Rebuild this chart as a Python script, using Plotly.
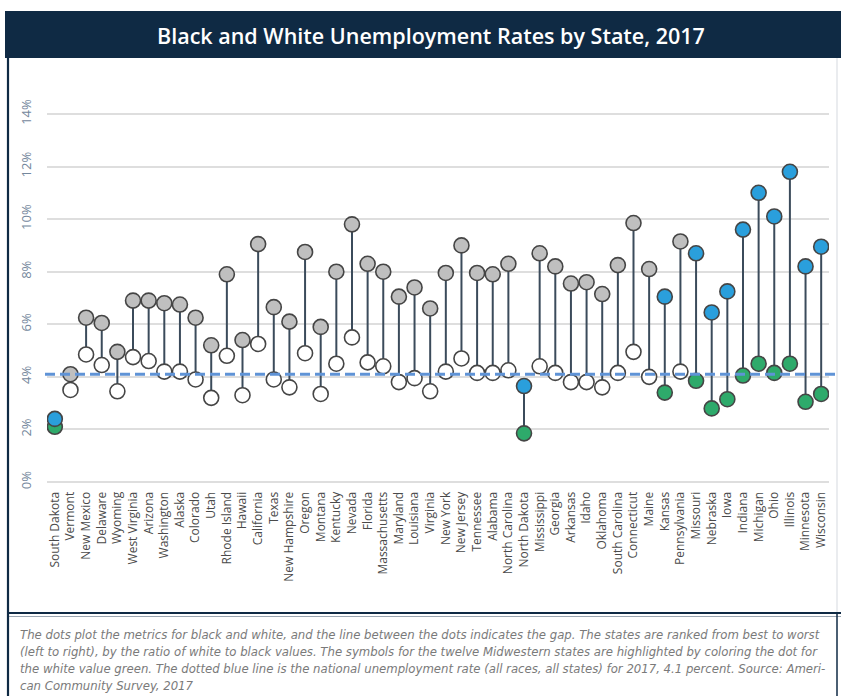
import plotly.graph_objects as go

# ---------------- data ----------------
states = ["South Dakota", "Vermont", "New Mexico", "Delaware", "Wyoming", "West Virginia",
          "Arizona", "Washington", "Alaska", "Colorado", "Utah", "Rhode Island", "Hawaii",
          "California", "Texas", "New Hampshire", "Oregon", "Montana", "Kentucky", "Nevada",
          "Florida", "Massachusetts", "Maryland", "Louisiana", "Virginia", "New York",
          "New Jersey", "Tennessee", "Alabama", "North Carolina", "North Dakota", "Mississippi",
          "Georgia", "Arkansas", "Idaho", "Oklahoma", "South Carolina", "Connecticut", "Maine",
          "Kansas", "Pennsylvania", "Missouri", "Nebraska", "Iowa", "Indiana", "Michigan",
          "Ohio", "Illinois", "Minnesota", "Wisconsin"]

black_rate = [2.4, 4.1, 6.25, 6.05, 4.95, 6.9, 6.9, 6.8, 6.75, 6.25, 5.2, 7.9, 5.4, 9.05,
              6.65, 6.1, 8.75, 5.9, 8.0, 9.8, 8.3, 8.0, 7.05, 7.4, 6.6, 7.95, 9.0, 7.95, 7.9,
              8.3, 3.65, 8.7, 8.2, 7.55, 7.6, 7.15, 8.25, 9.85, 8.1, 7.05, 9.15, 8.7, 6.45,
              7.25, 9.6, 11.0, 10.1, 11.8, 8.2, 8.95]

white_rate = [2.1, 3.5, 4.85, 4.45, 3.45, 4.75, 4.6, 4.2, 4.2, 3.9, 3.2, 4.8, 3.3, 5.25,
              3.9, 3.6, 4.9, 3.35, 4.5, 5.5, 4.55, 4.4, 3.8, 3.95, 3.45, 4.2, 4.7, 4.15, 4.15,
              4.25, 1.85, 4.4, 4.15, 3.8, 3.8, 3.6, 4.15, 4.95, 4.0, 3.4, 4.2, 3.85, 2.8,
              3.15, 4.05, 4.5, 4.15, 4.5, 3.05, 3.35]

midwest = {"South Dakota", "North Dakota", "Kansas", "Missouri", "Nebraska", "Iowa",
           "Indiana", "Michigan", "Ohio", "Illinois", "Minnesota", "Wisconsin"}

national_rate = 4.1
y_ticks = [0, 2, 4, 6, 8, 10, 12, 14]

title_text = "Black and White Unemployment Rates by State, 2017"
caption_lines = [
    "The dots plot the metrics for black and white, and the line between the dots indicates the gap. The states are ranked from best to worst",
    "(left to right), by the ratio of white to black values. The symbols for the twelve Midwestern states are highlighted by coloring the dot for",
    "the white value green. The dotted blue line is the national unemployment rate (all races, all states) for 2017, 4.1 percent. Source: Ameri-",
    "can Community Survey, 2017",
]

# ---------------- layout geometry ----------------
W, H = 841, 696
L, R, T, B = 47, 12, 98, 212
PW = W - L - R
PH = H - T - B
PX_PER_PCT = 26.29
y_lo = -(H - B - 482) / PX_PER_PCT
y_hi = y_lo + PH / PX_PER_PCT


def px(x):
    return (x - L) / PW


def py(y):
    return (H - B - y) / PH


NAVY = "#0f2a44"
GRAY_FILL = "#bfbfbf"
BLUE = "#2a9fdc"
GREEN = "#2eaa6b"
STEM = "#3b4b5b"
OUTLINE = "#454545"

xs = list(range(len(states)))

stem_x, stem_y = [], []
for i, (b, w) in enumerate(zip(black_rate, white_rate)):
    stem_x += [i, i, None]
    stem_y += [b, w, None]

black_colors = [BLUE if s in midwest else GRAY_FILL for s in states]
white_colors = [GREEN if s in midwest else "#ffffff" for s in states]

fig = go.Figure()
fig.add_trace(go.Scatter(x=stem_x, y=stem_y, mode="lines",
                         line=dict(color=STEM, width=2), hoverinfo="skip",
                         showlegend=False))
fig.add_trace(go.Scatter(x=xs, y=white_rate, mode="markers",
                         marker=dict(size=15, color=white_colors,
                                     line=dict(color=OUTLINE, width=1.6)),
                         showlegend=False, name="White"))
fig.add_trace(go.Scatter(x=xs, y=black_rate, mode="markers",
                         marker=dict(size=15, color=black_colors,
                                     line=dict(color=OUTLINE, width=1.6)),
                         showlegend=False, name="Black"))

shapes = [
    # header band
    dict(type="rect", xref="paper", yref="paper", x0=px(5), x1=px(845),
         y0=py(58), y1=py(11), fillcolor=NAVY, line=dict(width=0), layer="below"),
    # panel left border
    dict(type="line", xref="paper", yref="paper", x0=px(8), x1=px(8),
         y0=py(58), y1=py(613), line=dict(color=NAVY, width=2.2)),
    # panel right border
    dict(type="line", xref="paper", yref="paper", x0=px(837), x1=px(837),
         y0=py(58), y1=py(613), line=dict(color="#e3e6ea", width=1.5)),
    # panel bottom border
    dict(type="line", xref="paper", yref="paper", x0=px(8), x1=px(845),
         y0=py(613), y1=py(613), line=dict(color=NAVY, width=2.2)),
    dict(type="line", xref="paper", yref="paper", x0=px(8), x1=px(845),
         y0=py(616.5), y1=py(616.5), line=dict(color="#9aa5b1", width=1)),
    # caption box borders
    dict(type="line", xref="paper", yref="paper", x0=px(8), x1=px(8),
         y0=py(613), y1=py(700), line=dict(color=NAVY, width=2.2)),
    dict(type="line", xref="paper", yref="paper", x0=px(837), x1=px(837),
         y0=py(613), y1=py(700), line=dict(color=NAVY, width=1.5)),
    # national rate
    dict(type="line", xref="paper", yref="y", x0=px(45), x1=px(836),
         y0=national_rate, y1=national_rate,
         line=dict(color="#5f93d6", width=3, dash="10px,5px"), layer="above"),
]

annotations = [
    dict(text=title_text, xref="paper", yref="paper", x=px(431), y=py(35),
         xanchor="center", yanchor="middle", showarrow=False,
         font=dict(family="Open Sans", size=21.5, color="#ffffff", weight=600)),
    dict(text="<i>" + "<br>".join(caption_lines) + "</i>", xref="paper", yref="paper",
         x=px(18), y=py(625), xanchor="left", yanchor="top", align="left",
         showarrow=False,
         font=dict(family="Liberation Sans Narrow, DejaVu Sans Condensed, Liberation Sans, sans-serif",
                   size=13, color="#7a7a7a")),
]

fig.update_layout(
    width=W, height=H,
    margin=dict(l=L, r=R, t=T, b=B, pad=0),
    paper_bgcolor="#ffffff", plot_bgcolor="#ffffff",
    shapes=shapes, annotations=annotations,
    showlegend=False,
    xaxis=dict(range=[-0.5, len(states) - 0.5], tickmode="array", tickvals=xs,
               ticktext=states, tickangle=-90, showgrid=False, zeroline=False,
               showline=False, ticks="outside", ticklen=2, tickcolor="rgba(0,0,0,0)",
               tickfont=dict(family="Open Sans", size=12, color="#4a4a4a")),
    yaxis=dict(range=[y_lo, y_hi], tickmode="array", tickvals=y_ticks,
               ticktext=[f"{v}%" for v in y_ticks], tickangle=-90,
               showgrid=True, gridcolor="#dedede", gridwidth=1.5, zeroline=False,
               showline=False, ticklabelstandoff=12,
               tickfont=dict(family="Open Sans", size=13, color="#74879c")),
)

fig.write_html("out.html", config={"displayModeBar": False},
               post_script="document.body.style.margin='0px';document.body.style.overflow='hidden';")
